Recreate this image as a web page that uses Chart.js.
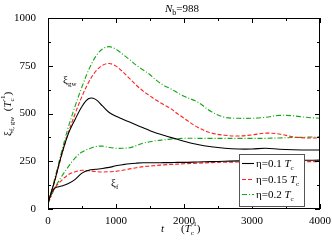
<!DOCTYPE html>
<html>
<head>
<meta charset="utf-8">
<script src="https://cdn.jsdelivr.net/npm/chart.js@4"></script>
<style>
  html, body { margin: 0; padding: 0; background: #fff; }
  #wrap { width: 332px; height: 241px; }
</style>
</head>
<body>
<div id="wrap"><canvas id="xiChart" width="332" height="241"></canvas></div>
<script>
// time in units of 1/Tc
var times = [0, 50, 100, 200, 300, 400, 500, 600, 700, 800, 900, 1000, 1100, 1200, 1300, 1400, 1500,
             1600, 1700, 1800, 1900, 2000, 2200, 2400, 2600, 2800, 3000, 3200, 3400, 3600, 3800, 4000];

// xi_gw curves
var gw01  = [30, 90, 150, 285, 395, 470, 537, 578, 574, 540, 505, 485, 470, 455, 440, 425, 410,
             397, 386, 375, 365, 355, 338, 326, 318, 314, 314, 318, 313, 310, 309, 309];
var gw015 = [30, 88, 148, 280, 400, 500, 590, 665, 720, 752, 762, 748, 718, 683, 648, 617, 592,
             568, 547, 527, 500, 475, 428, 398, 386, 382, 388, 397, 393, 378, 372, 372];
var gw02  = [30, 92, 160, 300, 430, 540, 640, 730, 798, 838, 850, 836, 810, 782, 752, 728, 703,
             672, 648, 630, 610, 590, 560, 510, 480, 475, 475, 480, 490, 488, 480, 475];

// xi_f curves
var f01   = [30, 85, 110, 120, 133, 155, 188, 203, 208, 212, 218, 226, 232, 237, 240, 242, 242,
             242, 243, 243, 244, 244, 246, 248, 250, 252, 252, 253, 254, 254, 255, 256];
var f015  = [30, 75, 110, 150, 180, 195, 203, 200, 196, 194, 195, 197, 203, 210, 216, 222, 225,
             228, 231, 233, 235, 237, 240, 243, 245, 246, 247, 247, 248, 248, 248, 248];
var f02   = [30, 70, 110, 170, 222, 268, 298, 315, 327, 329, 322, 318, 318, 321, 332, 345, 352,
             358, 362, 366, 368, 370, 370, 370, 370, 370, 370, 370, 372, 374, 376, 378];

var xTicks = [0, 1000, 2000, 3000, 4000];
var yTicks = [0, 250, 500, 750, 1000];
var legendLabels = ['\u03b7=0.1 ', '\u03b7=0.15 ', '\u03b7=0.2 '];

var SERIF = '"Liberation Serif", "DejaVu Serif", serif';
var RED = '#ff2020';
var GREEN = '#14a814';
var styles = [
  { color: '#000000', dash: [] },
  { color: RED, dash: [4, 2] },
  { color: GREEN, dash: [5, 2, 1, 2] }
];

function pts(vals) {
  return times.map(function (t, i) { return { x: t, y: vals[i] }; });
}

function mkSet(label, vals, s) {
  return {
    label: label,
    data: pts(vals),
    borderColor: s.color,
    borderDash: s.dash,
    borderWidth: 1.1,
    pointRadius: 0,
    fill: false,
    tension: 0.35
  };
}

// draw a row of text pieces: {t, size, it, dy}
function runs(ctx, x, y, parts) {
  parts.forEach(function (p) {
    ctx.font = (p.it ? 'italic ' : '') + p.size + 'px ' + SERIF;
    ctx.fillText(p.t, x, y + (p.dy || 0));
    x += ctx.measureText(p.t).width;
  });
  return x;
}

var decor = {
  id: 'decor',
  afterDatasetsDraw: function (chart) {
    var ctx = chart.ctx;
    var a = chart.chartArea;
    var xs = chart.scales.x, ys = chart.scales.y;
    ctx.save();
    ctx.strokeStyle = '#000';
    ctx.lineWidth = 1;
    ctx.setLineDash([]);
    ctx.strokeRect(a.left + 0.5, a.top + 0.5, a.right - a.left - 1, a.bottom - a.top - 1);

    // inward ticks
    ctx.beginPath();
    for (var t = 0; t <= 4000; t += 500) {
      var px = Math.round(xs.getPixelForValue(t)) + 0.5;
      var len = (t % 1000 === 0) ? 5 : 3;
      ctx.moveTo(px, a.bottom); ctx.lineTo(px, a.bottom - len);
      ctx.moveTo(px, a.top); ctx.lineTo(px, a.top + len);
    }
    for (var v = 0; v <= 1000; v += 125) {
      var py = Math.round(ys.getPixelForValue(v)) + 0.5;
      var l2 = (v % 250 === 0) ? 5 : 3;
      ctx.moveTo(a.left, py); ctx.lineTo(a.left + l2, py);
      ctx.moveTo(a.right, py); ctx.lineTo(a.right - l2, py);
    }
    ctx.stroke();

    ctx.fillStyle = '#000';
    ctx.textBaseline = 'alphabetic';
    ctx.textAlign = 'left';

    // title
    runs(ctx, 165, 12, [
      { t: 'N', size: 11, it: true },
      { t: 'b', size: 8, dy: 3 },
      { t: '=988', size: 11 }
    ]);

    // x label
    runs(ctx, 161, 232, [{ t: 't', size: 11, it: true }]);
    var xx = runs(ctx, 181, 232, [
      { t: '(', size: 11 },
      { t: 'T', size: 11, it: true },
      { t: 'c', size: 7, dy: 3 }
    ]);
    xx = runs(ctx, xx - 3, 232, [{ t: '-1', size: 7, dy: -6 }]);
    runs(ctx, xx, 232, [{ t: ')', size: 11 }]);

    // y label (rotated)
    ctx.save();
    ctx.translate(11, 136);
    ctx.rotate(-Math.PI / 2);
    var yx = runs(ctx, 0, 0, [
      { t: '\u03be', size: 11 },
      { t: 'f, gw', size: 7, dy: 3 },
      { t: '  (', size: 11 },
      { t: 'T', size: 11, it: true },
      { t: 'c', size: 7, dy: 3 }
    ]);
    yx = runs(ctx, yx - 3, 0, [{ t: '-1', size: 7, dy: -6 }]);
    runs(ctx, yx, 0, [{ t: ')', size: 11 }]);
    ctx.restore();

    // annotations
    runs(ctx, 63, 83, [
      { t: '\u03be', size: 11 },
      { t: 'gw', size: 7, dy: 3 }
    ]);
    runs(ctx, 111, 186, [
      { t: '\u03be', size: 11 },
      { t: 'f', size: 7, dy: 3 }
    ]);

    // legend
    var bx = 239, by = 154, bw = 65, bh = 52;
    ctx.fillStyle = '#fff';
    ctx.fillRect(bx, by, bw, bh);
    ctx.strokeStyle = '#555';
    ctx.strokeRect(bx + 0.5, by + 0.5, bw, bh);
    var rowsY = [163, 179, 194];
    for (var i = 0; i < 3; i++) {
      ctx.strokeStyle = styles[i].color;
      ctx.setLineDash(styles[i].dash);
      ctx.lineWidth = 1.1;
      ctx.beginPath();
      ctx.moveTo(242, rowsY[i] + 0.5);
      ctx.lineTo(254, rowsY[i] + 0.5);
      ctx.stroke();
      ctx.setLineDash([]);
      ctx.fillStyle = '#000';
      runs(ctx, 256, rowsY[i] + 4, [
        { t: legendLabels[i], size: 11 },
        { t: 'T', size: 11, it: true },
        { t: 'c', size: 7, dy: 3 }
      ]);
    }
    ctx.restore();
  }
};

var ctx = document.getElementById('xiChart').getContext('2d');
var xiChart = new Chart(ctx, {
  type: 'line',
  data: {
    datasets: [
      mkSet('gw 0.1', gw01, styles[0]),
      mkSet('gw 0.15', gw015, styles[1]),
      mkSet('gw 0.2', gw02, styles[2]),
      mkSet('f 0.1', f01, styles[0]),
      mkSet('f 0.15', f015, styles[1]),
      mkSet('f 0.2', f02, styles[2])
    ]
  },
  options: {
    responsive: false,
    animation: false,
    devicePixelRatio: 1,
    layout: { padding: { left: 0, right: 12, top: 18, bottom: 0 } },
    plugins: { legend: { display: false }, tooltip: { enabled: false }, title: { display: false } },
    scales: {
      x: {
        type: 'linear', min: 0, max: 4000,
        grid: { display: false }, border: { display: false },
        afterBuildTicks: function (s) { s.ticks = xTicks.map(function (v) { return { value: v }; }); },
        afterFit: function (s) { s.height = 32; },
        ticks: { color: '#000', padding: -2, maxRotation: 0, autoSkip: false,
                 font: { family: SERIF, size: 11 },
                 callback: function (v) { return String(v); } }
      },
      y: {
        min: 0, max: 1000,
        grid: { display: false }, border: { display: false },
        afterBuildTicks: function (s) { s.ticks = yTicks.map(function (v) { return { value: v }; }); },
        afterFit: function (s) { s.width = 48; },
        ticks: { color: '#000', padding: 4, autoSkip: false,
                 font: { family: SERIF, size: 11 },
                 callback: function (v) { return String(v); } }
      }
    }
  },
  plugins: [decor]
});
</script>
</body>
</html>
